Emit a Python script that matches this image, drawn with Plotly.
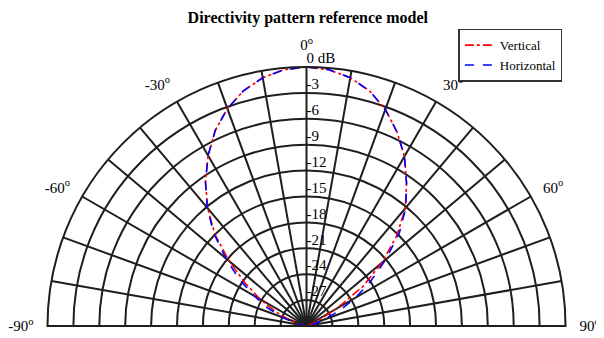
import plotly.graph_objects as go

# Data
angles_deg = [-90, -85, -80, -75, -70, -65, -60, -55, -50, -45, -40, -35, -30, -25, -20, -15, -10, -5,
              0, 5, 10, 15, 20, 25, 30, 35, 40, 45, 50, 55, 60, 65, 70, 75, 80, 85, 90]
vertical_db = [-30, -30, -29.8, -29.0, -27.8, -26.0, -23.8, -21.3, -18.3, -15.0, -12.2, -9.6, -7.2, -5.0, -3.2, -1.8, -0.8, -0.2,
               0, -0.2, -0.8, -1.8, -3.3, -5.2, -7.3, -9.8, -12.2, -15.2, -18.6, -22.0, -26.0, -28.5, -29.4, -29.8, -30, -30, -30]
horizontal_db = [-30, -30, -29.6, -28.6, -27.0, -25.0, -23.0, -20.4, -17.8, -14.8, -12.1, -9.6, -7.2, -5.0, -3.2, -1.8, -0.8, -0.2,
                 0, -0.2, -0.8, -1.8, -3.3, -5.2, -7.3, -9.8, -12.1, -14.8, -18.0, -20.9, -23.4, -25.8, -27.9, -29.0, -29.7, -30, -30]

angle_ticks = [-90, -80, -70, -60, -50, -40, -30, -20, -10, 0, 10, 20, 30, 40, 50, 60, 70, 80, 90]
angle_labels = ["-90<sup>o</sup>", "", "", "-60<sup>o</sup>", "", "", "-30<sup>o</sup>", "", "",
                "0<sup>o</sup>", "", "", "30<sup>o</sup>", "", "", "60<sup>o</sup>", "", "", "90<sup>o</sup>"]
radial_ticks = [0, -3, -6, -9, -12, -15, -18, -21, -24, -27]
radial_labels = ["0 dB", "-3", "-6", "-9", "-12", "-15", "-18", "-21", "-24", "-27"]

FONT = "Liberation Serif, Times New Roman, serif"
GRID = "#1e1e1e"

fig = go.Figure()
fig.add_trace(go.Scatterpolar(
    theta=angles_deg, r=vertical_db, mode="lines", name="Vertical",
    line=dict(color="#ff0000", width=1.6, dash="dashdot"), hoverinfo="skip"))
fig.add_trace(go.Scatterpolar(
    theta=angles_deg, r=horizontal_db, mode="lines", name="Horizontal",
    line=dict(color="#0000ff", width=1.6, dash="dash"), hoverinfo="skip"))
fig.add_trace(go.Scatterpolar(
    theta=[0] * len(radial_ticks), r=radial_ticks, mode="text", text=radial_labels,
    textposition="top right", textfont=dict(family=FONT, size=15, color="black"),
    showlegend=False, cliponaxis=False, hoverinfo="skip"))

# The page body adds an 8px margin, so the figure is sized to fill the rest of the window
fig.update_layout(
    width=596, height=330,
    paper_bgcolor="white",
    margin=dict(l=38.5, r=37.5, t=58.5, b=11.5, autoexpand=False),
    title=dict(text="<b>Directivity pattern reference model</b>", x=0.503, xanchor="center",
               y=0.973, yanchor="middle", automargin=False,
               font=dict(family=FONT, size=16, color="black")),
    font=dict(family=FONT, color="black"),
    legend=dict(x=0.993, xanchor="right", y=1.148, yanchor="top",
                bgcolor="white", bordercolor="#333", borderwidth=1.5,
                font=dict(family=FONT, size=13, color="black"),
                tracegroupgap=0, itemwidth=30),
    polar=dict(
        bgcolor="white",
        sector=[0, 180],
        domain=dict(x=[0, 1], y=[0, 1]),
        angularaxis=dict(
            rotation=90, direction="clockwise",
            tickmode="array", tickvals=angle_ticks, ticktext=angle_labels,
            ticks="outside", ticklen=10, tickcolor="rgba(0,0,0,0)",
            showline=True, linecolor=GRID, linewidth=2,
            gridcolor=GRID, gridwidth=1.5,
            tickfont=dict(family=FONT, size=15, color="black")),
        radialaxis=dict(
            range=[-30, 0], tickmode="array", tickvals=radial_ticks,
            angle=90, showticklabels=False, ticks="", showline=False,
            gridcolor=GRID, gridwidth=1.5),
    ),
)

fig.write_html("out.html")
